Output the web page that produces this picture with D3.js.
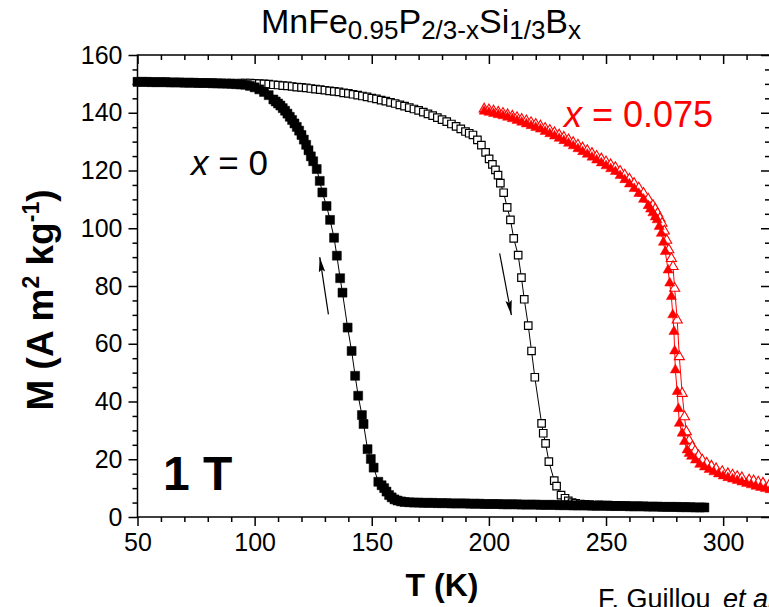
<!DOCTYPE html>
<html>
<head>
<meta charset="utf-8">
<script src="https://cdn.jsdelivr.net/npm/d3@7"></script>
<style>
body { margin: 0; background: #fff; }
text { font-family: "Liberation Sans", Arial, sans-serif; }
</style>
</head>
<body>
<div id="chart"></div>
<script>
// tick labels
const xTicks = [50, 100, 150, 200, 250, 300];
const yTicks = [0, 20, 40, 60, 80, 100, 120, 140, 160];

// x = 0, filled squares [T (K), M (A m2 kg-1)]
const sqFilled = [
  [50,150.7],[52,150.7],[54,150.7],[56,150.6],[58,150.6],[60,150.6],[62,150.6],[64,150.5],[66,150.5],[68,150.5],
  [70,150.4],[72,150.4],[74,150.4],[76,150.3],[78,150.3],[80,150.3],[82,150.2],[84,150.2],[86,150.1],[88,150.1],
  [90,150.0],[92,149.9],[94,149.8],[96,149.7],[98,149.3],[100,148.8],[102,148.1],[104,147.2],[106,146.1],[108,144.6],
  [109,143.9],[110,143.2],[111,142.5],[112,141.6],[113,140.7],[114,139.7],[115,138.6],[116,137.5],[117,136.3],[118,135.1],
  [119,133.8],[120,132.3],[121,130.7],[122,128.9],[123,127.0],[124,124.9],[125,123.2],[126.5,120.5],[127.8,116.4],[128.9,112.4],
  [130.7,107.7],[132.2,102.9],[133.9,96.7],[135.1,90.5],[136.5,82.7],[137.5,77.7],[139.7,65.6],[141.4,57.5],[142.9,48.9],[144.2,42.0],
  [145.8,35.3],[146.5,32.2],[148.2,23.5],[149.6,20.1],[150.8,17.1],[152.8,12.2],[154.2,11.0],[155.3,10.0],[156.3,8.8],[157.4,7.6],
  [158.5,6.8],[159.7,6.1],[161,5.7],[162.5,5.4],[164,5.2],[166,5.1],[168,5.0],[170,5.0],[172,4.9],[174,4.9],
  [176,4.9],[178,4.8],[180,4.8],[182,4.8],[184,4.7],[186,4.7],[188,4.7],[190,4.7],[192,4.6],[194,4.6],
  [196,4.6],[198,4.5],[200,4.5],[202,4.5],[204,4.5],[206,4.4],[208,4.4],[210,4.4],[212,4.4],[214,4.3],
  [216,4.3],[218,4.3],[220,4.3],[222,4.2],[224,4.2],[226,4.2],[228,4.2],[230,4.1],[232,4.1],[234,4.1],
  [236,4.0],[238,4.0],[240,4.0],[242,4.0],[244,3.9],[246,3.9],[248,3.9],[250,3.9],[252,3.8],[254,3.8],
  [256,3.8],[258,3.8],[260,3.7],[262,3.7],[264,3.7],[266,3.7],[268,3.6],[270,3.6],[272,3.6],[274,3.5],
  [276,3.5],[278,3.5],[280,3.5],[282,3.4],[284,3.4],[286,3.4],[288,3.3],[290,3.3],[292,3.3]
];

// x = 0, open squares
const sqOpen = [
  [50,150.7],[54,150.7],[58,150.6],[62,150.6],[66,150.5],[70,150.5],[74,150.4],[78,150.4],[82,150.4],[86,150.3],
  [90,150.3],[94,150.3],[96,150.3],[98,150.3],[100,150.2],[102,150.1],[104,150.0],[106,149.9],[108,149.7],[110,149.6],
  [112,149.4],[114,149.3],[116,149.1],[118,148.9],[120,148.8],[122,148.6],[124,148.4],[126,148.2],[128,148.0],[130,147.8],
  [132,147.6],[134,147.4],[136,147.2],[138,146.9],[140,146.7],[142,146.4],[144,146.1],[146,145.8],[148,145.5],[150,145.1],
  [152,144.8],[154,144.4],[156,144.0],[158,143.6],[160,143.2],[162,142.7],[164,142.3],[166,141.8],[168,141.3],[170,140.8],
  [172,140.2],[174,139.6],[176,139.0],[178,138.3],[180,137.6],[182,136.9],[184,136.1],[186,135.3],[188,134.4],[190,133.5],
  [191.6,132.9],[193.2,132.3],[195.1,130.6],[196.8,128.8],[198.6,126.3],[200.1,124.0],[201.5,122.1],[202.8,120.2],[203.9,118.4],[204.9,115.6],
  [206.3,112.3],[207.8,107.2],[209.2,102.9],[210.6,96.5],[212.5,90.7],[213.9,82.9],[215.1,75.4],[216.8,66.3],[218.2,57.5],[219.6,48.4],
  [222.5,32.4],[223.2,29.0],[224.2,25.5],[225.6,19.2],[227.9,12.6],[228.9,10.7],[230.8,7.6],[232.5,6.5],[233.9,5.6],[235.5,5.0],
  [237,4.7],[239,4.5],[241,4.4],[243,4.3],[247,4.2],[251,4.1],[255,4.0],[259,3.9],[263,3.8],[267,3.7],
  [271,3.6],[275,3.6],[279,3.5],[283,3.5],[287,3.4],[291,3.4]
];

// x = 0.075, filled triangles
const triFilled = [
  [198,140.5],[200,140.1],[202,139.7],[204,139.3],[206,138.9],[208,138.4],[210,137.9],[212,137.3],[214,136.7],[216,136.1],
  [218,135.5],[220,134.9],[222,134.3],[224,133.5],[226,132.7],[228,131.9],[230,131.1],[232,130.3],[234,129.4],[236,128.5],
  [238,127.5],[240,126.5],[242,125.6],[244,124.6],[246,123.6],[248,122.6],[250,121.6],[252,120.6],[254,119.6],[256,118.2],
  [258,116.8],[260,115.3],[262,113.7],[264,112.0],[266,110.0],[268,107.8],[269,106.6],[270,105.3],[271,103.9],[271.8,102.9],
  [272.7,100.6],[273.6,98.2],[274.5,95.1],[275.3,91.9],[276.5,85.5],[277.2,81.0],[277.9,76.3],[278.5,70.0],[279.0,64.2],[279.3,57.5],
  [279.6,50.9],[280.4,43.4],[280.9,37.5],[281.3,32.4],[282.5,29.0],[283.5,26.1],[284.6,23.2],[285.5,22.0],[286.5,21.0],[288.2,19.7],
  [290,18.2],[292,17.3],[294,16.4],[296,15.6],[298,14.9],[300,14.2],[302,13.6],[304,13.1],[306,12.6],[308,12.1],
  [310,11.6],[312,11.1],[314,10.6],[316,10.2],[318,9.8],[320,9.4]
];

// x = 0.075, open triangles
const triOpen = [
  [198,141.3],[200,141.0],[202,140.6],[204,140.2],[206,139.8],[208,139.3],[210,138.8],[212,138.3],[214,137.7],[216,137.2],
  [218,136.6],[220,136.0],[222,135.4],[224,134.6],[226,133.9],[228,133.1],[230,132.3],[232,131.5],[234,130.6],[236,129.7],
  [238,128.8],[240,127.8],[242,126.9],[244,125.9],[246,124.9],[248,124.0],[250,123.0],[252,122.0],[254,121.0],[256,119.7],
  [258,118.4],[260,117.0],[262,115.5],[264,113.9],[266,112.1],[268,110.1],[270,107.9],[271,106.6],[272,105.1],[273,103.4],
  [273.9,101.7],[274.9,99.0],[275.9,95.8],[276.8,92.5],[277.9,89.5],[278.6,86.7],[279.3,79.2],[280.4,68.2],[281.3,55.5],[282.5,42.8],
  [283.5,34.7],[284.3,29.5],[285.5,26.5],[286.8,24.3],[288,22.8],[289.5,21.2],[291.1,19.7],[293,18.6],[295,17.6],[297,16.7],
  [299.6,15.7],[302,15.0],[304,14.5],[306,14.0],[308,13.6],[311.1,12.8],[313,12.5],[315,12.1],[317,11.7],[319.7,11.1]
];

// arrows [from, to] in data units
const arrows = [
  [[131.5, 70.2], [127.8, 90.0]],
  [[204.6, 91.3], [209.6, 69.9]]
];

const width = 769, height = 607;
const x = d3.scaleLinear().domain([50, 320]).range([137.5, 770]);
const y = d3.scaleLinear().domain([0, 160]).range([517, 55]);

const svg = d3.select("#chart").append("svg")
    .attr("width", width)
    .attr("height", height);

svg.append("defs").append("marker")
    .attr("id", "head")
    .attr("markerUnits", "userSpaceOnUse")
    .attr("markerWidth", 16).attr("markerHeight", 8)
    .attr("refX", 15).attr("refY", 4)
    .attr("orient", "auto")
  .append("path")
    .attr("d", "M0,0.8 L15,4 L0,7.2 L2.5,4 Z")
    .attr("fill", "#000");

// axes
function styleAxis(g) {
  g.select(".domain").remove();
  g.selectAll("line").attr("stroke", "#000").attr("stroke-width", 1.5);
  g.selectAll("text").attr("font-size", 25).attr("fill", "#000")
    .style("font-family", "'Liberation Sans', Arial, sans-serif");
}
const xMinor = d3.range(50, 321, 10).filter(v => v % 50 !== 0);
const yMinor = d3.range(0, 161, 5).filter(v => v % 20 !== 0);

svg.append("g").attr("transform", "translate(0,517)")
    .call(d3.axisBottom(x).tickValues(xTicks).tickSize(9).tickPadding(7)).call(styleAxis);
svg.append("g").attr("transform", "translate(0,517)")
    .call(d3.axisBottom(x).tickValues(xMinor).tickSize(5).tickFormat("")).call(styleAxis);
svg.append("g").attr("transform", "translate(0,55)")
    .call(d3.axisBottom(x).tickValues(xTicks).tickSize(9).tickFormat("")).call(styleAxis);
svg.append("g").attr("transform", "translate(0,55)")
    .call(d3.axisBottom(x).tickValues(xMinor).tickSize(5).tickFormat("")).call(styleAxis);

svg.append("g").attr("transform", "translate(137.5,0)")
    .call(d3.axisLeft(y).tickValues(yTicks).tickSize(9).tickPadding(6)).call(styleAxis);
svg.append("g").attr("transform", "translate(137.5,0)")
    .call(d3.axisLeft(y).tickValues(yMinor).tickSize(5).tickFormat("")).call(styleAxis);
svg.append("g").attr("transform", "translate(770,0)")
    .call(d3.axisLeft(y).tickValues(yTicks).tickSize(9).tickFormat("")).call(styleAxis);
svg.append("g").attr("transform", "translate(770,0)")
    .call(d3.axisLeft(y).tickValues(yMinor).tickSize(5).tickFormat("")).call(styleAxis);

svg.append("rect")
    .attr("x", x(50)).attr("y", y(160))
    .attr("width", x(320) - x(50)).attr("height", y(0) - y(160))
    .attr("fill", "none").attr("stroke", "#000").attr("stroke-width", 1.5);

// series
const line = d3.line().x(d => x(d[0])).y(d => y(d[1]));
const sq = d3.symbol(d3.symbolSquare, 81)();
const sqO = d3.symbol(d3.symbolSquare, 56)();
const tri = d3.symbol(d3.symbolTriangle, 44)();

function drawSeries(data, color, shape, filled, sw) {
  svg.append("path").datum(data)
      .attr("d", line).attr("fill", "none")
      .attr("stroke", color).attr("stroke-width", 1);
  svg.append("g").selectAll("path").data(data).enter().append("path")
      .attr("d", shape)
      .attr("transform", d => `translate(${x(d[0])},${y(d[1])})`)
      .attr("fill", filled ? color : "#fff")
      .attr("stroke", color)
      .attr("stroke-width", filled ? 0.5 : sw);
}

drawSeries(sqOpen, "#000", sqO, false, 1.2);
drawSeries(sqFilled, "#000", sq, true);
drawSeries(triOpen, "#ff0000", tri, false, 1.1);
drawSeries(triFilled, "#ff0000", tri, true);

// arrows
arrows.forEach(a => {
  svg.append("line")
      .attr("x1", x(a[0][0])).attr("y1", y(a[0][1]))
      .attr("x2", x(a[1][0])).attr("y2", y(a[1][1]))
      .attr("stroke", "#000").attr("stroke-width", 1.2)
      .attr("marker-end", "url(#head)");
});

// title
const title = svg.append("text").attr("x", 421).attr("y", 33)
    .attr("text-anchor", "middle").attr("font-size", 34).attr("fill", "#000");
title.append("tspan").text("MnFe");
title.append("tspan").attr("font-size", 26).attr("dy", 6).text("0.95");
title.append("tspan").attr("dy", -6).text("P");
title.append("tspan").attr("font-size", 26).attr("dy", 6).text("2/3-x");
title.append("tspan").attr("dy", -6).text("Si");
title.append("tspan").attr("font-size", 26).attr("dy", 6).text("1/3");
title.append("tspan").attr("dy", -6).text("B");
title.append("tspan").attr("font-size", 26).attr("dy", 6).text("x");

// axis titles
const yl = svg.append("text")
    .attr("transform", "translate(53,300) rotate(-90)")
    .attr("text-anchor", "middle").attr("font-size", 37).attr("font-weight", "bold");
yl.append("tspan").text("M (A m");
yl.append("tspan").attr("font-size", 23).attr("dy", -14).text("2");
yl.append("tspan").attr("dy", 14).text(" kg");
yl.append("tspan").attr("font-size", 23).attr("dy", -14).text("-1");
yl.append("tspan").attr("dy", 14).text(")");

svg.append("text").attr("x", 442).attr("y", 596)
    .attr("text-anchor", "middle").attr("font-size", 32).attr("font-weight", "bold")
    .text("T (K)");

// labels
const l0 = svg.append("text").attr("x", 191).attr("y", 175).attr("font-size", 35);
l0.append("tspan").attr("font-style", "italic").text("x");
l0.append("tspan").text(" = 0");

const l1 = svg.append("text").attr("x", 564).attr("y", 127).attr("font-size", 36).attr("fill", "#ff0000");
l1.append("tspan").attr("font-style", "italic").text("x");
l1.append("tspan").text(" = 0.075");

svg.append("text").attr("x", 163).attr("y", 490)
    .attr("font-size", 48).attr("font-weight", "bold").text("1 T");

const cite = svg.append("text").attr("x", 598).attr("y", 608).attr("font-size", 27);
cite.append("tspan").text("F. Guillou ");
cite.append("tspan").attr("font-style", "italic").attr("dx", 5).text("et al.");
</script>
</body>
</html>
